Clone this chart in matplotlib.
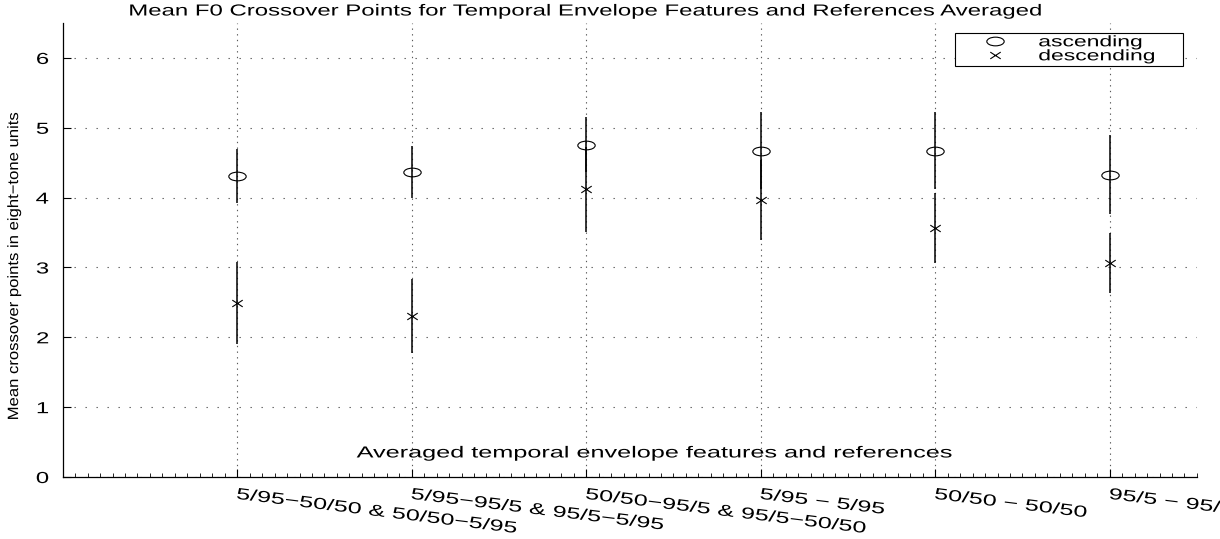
import matplotlib
matplotlib.use('Agg')
import matplotlib.pyplot as plt
from matplotlib.path import Path
from matplotlib.patheffects import AbstractPathEffect
from matplotlib.transforms import Affine2D
from matplotlib.ticker import MultipleLocator

plt.rcParams['font.family'] = ['Liberation Sans', 'DejaVu Sans']

# Data
positions = [1, 2, 3, 4, 5, 6]
tick_labels = ['5/95\u221250/50 & 50/50\u22125/95',
               '5/95\u221295/5 & 95/5\u22125/95',
               '50/50\u221295/5 & 95/5\u221250/50',
               '5/95 \u2212 5/95',
               '50/50 \u2212 50/50',
               '95/5 \u2212 95/5']
asc_mean = [4.31, 4.37, 4.76, 4.67, 4.67, 4.33]
asc_err = [0.38, 0.37, 0.40, 0.55, 0.55, 0.56]
desc_mean = [2.49, 2.30, 4.12, 3.97, 3.57, 3.06]
desc_err = [0.59, 0.53, 0.61, 0.57, 0.50, 0.43]

title = 'Mean F0 Crossover Points for Temporal Envelope Features and References Averaged'
xlabel = 'Averaged temporal envelope features and references'
ylabel = 'Mean crossover points in eight\u2212tone units'

FS = 11.5  # the original export is stretched sideways, so glyphs get widened too


class Stretch(AbstractPathEffect):
    """Scale text glyphs around an anchor before they are placed."""

    def __init__(self, sx=1.0, sy=1.0, anchor='center'):
        super().__init__()
        self.sx, self.sy, self.anchor = sx, sy, anchor

    def draw_path(self, renderer, gc, tpath, affine, rgbFace=None):
        ext = tpath.get_extents()
        cx = {'left': 0.0, 'center': (ext.x0 + ext.x1) / 2, 'right': ext.x1}[self.anchor]
        cy = (ext.y0 + ext.y1) / 2
        warp = Affine2D().translate(-cx, -cy).scale(self.sx, self.sy).translate(cx, cy)
        renderer.draw_path(gc, tpath, warp + affine, rgbFace)


# flattened markers, like the squashed MATLAB export
ellipse = Path.unit_circle().transformed(Affine2D().scale(1.0, 0.5))
cross = Path([(-1, -0.65), (1, 0.65), (-1, 0.65), (1, -0.65)],
             [Path.MOVETO, Path.LINETO, Path.MOVETO, Path.LINETO])

fig = plt.figure(figsize=(12.2, 5.39), dpi=100)
ax = fig.add_axes([0.0514, 0.115, 0.9297, 0.8423])

ax.errorbar(positions, asc_mean, yerr=asc_err, fmt='none', ecolor='k', elinewidth=1.1, capsize=0)
ax.errorbar(positions, desc_mean, yerr=desc_err, fmt='none', ecolor='k', elinewidth=1.1, capsize=0)
ax.plot(positions, asc_mean, linestyle='none', marker=ellipse, ms=12.5, mfc='none',
        mec='k', mew=0.8, label='ascending')
ax.plot(positions, desc_mean, linestyle='none', marker=cross, ms=7.5, mfc='none',
        mec='k', mew=0.8, label='descending')

ax.set_xlim(0, 6.5)
ax.set_ylim(0, 6.5)
ax.set_xticks(positions)
ax.set_xticklabels(tick_labels, rotation=-7, ha='left', va='top', rotation_mode='anchor')
ax.set_yticks(range(7))
ax.xaxis.set_minor_locator(MultipleLocator(1 / 14))
ax.tick_params(which='major', direction='in', length=6, width=0.8, labelsize=FS)
ax.tick_params(which='minor', direction='in', length=3, width=0.6)
ax.tick_params(axis='x', pad=7)
ax.tick_params(axis='y', pad=10)
for side in ['top', 'right']:
    ax.spines[side].set_visible(False)
for side in ['left', 'bottom']:
    ax.spines[side].set_linewidth(0.9)

ax.set_axisbelow(True)
ax.grid(axis='x', which='major', color='0.35', lw=0.8, linestyle=(0, (1.2, 3.9)))
ax.grid(axis='y', which='major', color='0.35', lw=0.8, linestyle=(0, (1.2, 8.7)))

for lab in ax.get_xticklabels():
    lab.set_path_effects([Stretch(1.57, anchor='left')])
for lab in ax.get_yticklabels():
    lab.set_path_effects([Stretch(1.5, anchor='right')])

leg = ax.legend(loc='upper left', bbox_to_anchor=(0.7867, 0.978, 0.201, 0.0), mode='expand',
                borderaxespad=0, fancybox=False, edgecolor='k', framealpha=1, fontsize=11,
                handlelength=5, handletextpad=0.3, borderpad=0.15, labelspacing=0.0)
leg.get_frame().set_linewidth(0.8)
for t in leg.get_texts():
    t.set_path_effects([Stretch(1.5, anchor='left')])

ax.text(0.522, 0.053, xlabel, transform=ax.transAxes, ha='center', va='center',
        fontsize=FS, path_effects=[Stretch(1.58)])
fig.text(586 / 1220, 1 - 11 / 539, title, ha='center', va='center',
         fontsize=FS, path_effects=[Stretch(1.5)])
fig.text(14 / 1220, 1 - 266 / 539, ylabel, rotation=90, ha='center', va='center',
         fontsize=12, path_effects=[Stretch(1.0, 0.9)])

fig.savefig('out.png', dpi=100)
